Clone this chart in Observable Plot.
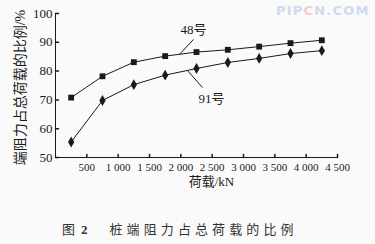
<!DOCTYPE html>
<html>
<head>
<meta charset="utf-8">
<script src="https://cdn.jsdelivr.net/npm/d3@7"></script>
<script src="https://cdn.jsdelivr.net/npm/@observablehq/plot@0.6"></script>
<style>
  html, body { margin: 0; padding: 0; background: #fafafa; }
  #wrap { position: relative; width: 375px; height: 244px; overflow: hidden; background: #fafafa; }
  #chart svg { display: block; }
  #caption { position: absolute; left: 62px; top: 219px; font: 13px "Liberation Serif", "Noto Sans CJK SC", serif; color: #333; white-space: nowrap; }
  #caption .b { font-weight: bold; margin-left: 6px; }
  #caption .t { margin-left: 22px; letter-spacing: 4.1px; }
  #wm { position: absolute; left: 276px; top: 3px; font: bold 13px "DejaVu Sans", sans-serif; letter-spacing: 1.2px; color: #cfdaee; }
  #wm .c { color: #f2cccc; }
</style>
</head>
<body>
<div id="wrap">
  <div id="chart"></div>
  <div id="wm">PIP<span class="c">C</span>N.COM</div>
  <div id="caption">图<span class="b">2</span><span class="t">桩端阻力占总荷载的比例</span></div>
</div>
<script>
// Data
const loads = [250, 750, 1250, 1750, 2250, 2750, 3250, 3750, 4250];
const ratio48 = [70.8, 78.2, 83.1, 85.2, 86.6, 87.4, 88.5, 89.7, 90.7];
const ratio91 = [55.4, 69.8, 75.3, 78.6, 80.9, 83.0, 84.4, 86.1, 87.1];
const xTicks = [500, 1000, 1500, 2000, 2500, 3000, 3500, 4000, 4500];
const yTicks = [50, 60, 70, 80, 90, 100];
const seriesNames = ["48号", "91号"];
// annotation label anchors (data units) and leader lines
const labelX = [2202, 2489];
const labelY = [94.3, 70.5];
const leaderFrom = [[1979, 85.8], [2110, 80.1]];
const leaderTo = [[2202, 91.0], [2346, 74.3]];
const xLabel = "荷载/kN";
const yLabel = "端阻力占总荷载的比例/%";

const d48 = loads.map((x, i) => ({x, y: ratio48[i]}));
const d91 = loads.map((x, i) => ({x, y: ratio91[i]}));
const leaders = leaderFrom.map((f, i) => ({x1: f[0], y1: f[1], x2: leaderTo[i][0], y2: leaderTo[i][1]}));
const labels = seriesNames.map((s, i) => ({x: labelX[i], y: labelY[i], s}));

const fmt = n => n >= 1000 ? `${Math.floor(n / 1000)} ${String(n % 1000).padStart(3, "0")}` : String(n);
const tickShape = {draw(ctx, l) { ctx.moveTo(0, 0); ctx.lineTo(0, -l); }};
const ink = "#1a1a1a";
const serif = "Liberation Serif, Noto Sans CJK SC, serif";

const plot = Plot.plot({
  width: 375,
  height: 195,
  marginLeft: 55,
  marginRight: 38,
  marginTop: 13,
  marginBottom: 38,
  style: {background: "transparent", fontFamily: serif, color: ink},
  x: {domain: [0, 4500]},
  y: {domain: [50, 100]},
  marks: [
    Plot.ruleX([0], {stroke: ink, strokeWidth: 1}),
    Plot.ruleY([50], {stroke: ink, strokeWidth: 1}),
    Plot.vector(yTicks, {x: 0, y: d => d, length: 3, rotate: 90, anchor: "start", shape: tickShape, stroke: ink}),
    Plot.vector(xTicks, {x: d => d, y: 50, length: 3, rotate: 0, anchor: "start", shape: tickShape, stroke: ink}),
    Plot.axisY(yTicks, {tickSize: 0, tickPadding: 3, tickFormat: d => d, fontSize: 13, fill: ink, label: null}),
    Plot.axisX(xTicks, {tickSize: 0, tickPadding: 6, tickFormat: fmt, fontSize: 11, fill: ink, label: null}),
    Plot.text([xLabel], {frameAnchor: "bottom", dx: 15, dy: 28, text: d => d, fontSize: 13, fill: ink}),
    Plot.text([yLabel], {frameAnchor: "left", textAnchor: "middle", dx: -35, dy: 2, rotate: -90, text: d => d, fontSize: 14, fill: ink}),
    Plot.line(d48, {x: "x", y: "y", stroke: ink, strokeWidth: 1}),
    Plot.line(d91, {x: "x", y: "y", stroke: ink, strokeWidth: 1}),
    Plot.dot(d48, {x: "x", y: "y", symbol: "square", r: 3.3, fill: ink, stroke: "none"}),
    Plot.dot(d91, {x: "x", y: "y", symbol: "diamond", r: 3.3, fill: ink, stroke: "none"}),
    Plot.link(leaders, {x1: "x1", y1: "y1", x2: "x2", y2: "y2", stroke: ink, strokeWidth: 1}),
    Plot.text(labels, {x: "x", y: "y", text: "s", fontSize: 13, fill: ink})
  ]
});
document.getElementById("chart").appendChild(plot);
</script>
</body>
</html>
